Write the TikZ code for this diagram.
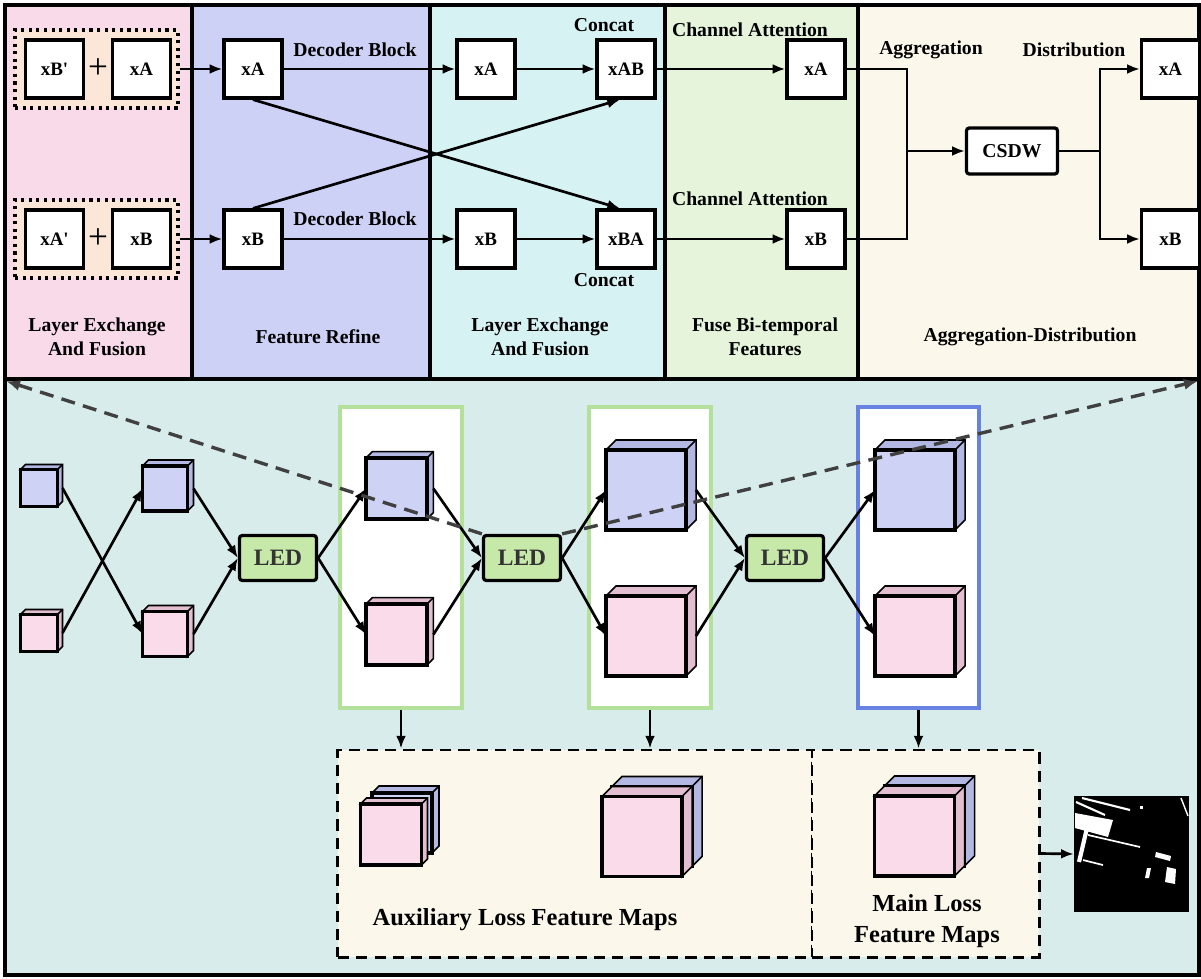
\documentclass[tikz,border=0pt]{standalone}
\usepackage{fontspec}
\setmainfont{Liberation Serif}
\usetikzlibrary{arrows.meta,calc}

\definecolor{panel_pink}{HTML}{F9DAE9}
\definecolor{panel_lavender}{HTML}{CED1F6}
\definecolor{panel_cyan}{HTML}{D7F2F3}
\definecolor{panel_green}{HTML}{E5F4DB}
\definecolor{panel_cream}{HTML}{FBF7EA}
\definecolor{panel_teal}{HTML}{D9ECEC}
\definecolor{group_peach}{HTML}{FBE6D8}
\definecolor{led_green}{HTML}{C6E9A9}
\definecolor{frame_green}{HTML}{B3E09B}
\definecolor{frame_blue}{HTML}{6882E4}
\definecolor{cube_blue}{HTML}{CED3F6}
\definecolor{cube_blue_side}{HTML}{B2B8E2}
\definecolor{cube_pink}{HTML}{F9DBEA}
\definecolor{cube_pink_side}{HTML}{E3BED1}

\tikzstyle{node_box} = [draw, line width=2.3pt, fill=white, minimum width=1.45cm, minimum height=1.45cm, inner sep=0pt, font=\fontsize{13.5}{15}\selectfont\bfseries]
\tikzstyle{node_group} = [draw, line width=2.4pt, dash pattern=on 2.2pt off 3.2pt, fill=group_peach, minimum width=4.075cm, minimum height=1.95cm]
\tikzstyle{node_plus} = [inner sep=0pt, font=\fontsize{25}{25}\selectfont]
\tikzstyle{node_label} = [inner sep=0pt, align=center, font=\fontsize{14}{17}\selectfont\bfseries]
\tikzstyle{node_title} = [inner sep=0pt, align=center, font=\fontsize{17.4}{22}\selectfont\bfseries]
\tikzstyle{node_csdw} = [draw, line width=2.3pt, rounded corners=2pt, fill=white, minimum width=2.275cm, minimum height=1.15cm, font=\fontsize{14}{16}\selectfont\bfseries]
\tikzstyle{node_led} = [draw, line width=2.3pt, rounded corners=2pt, fill=led_green, minimum width=1.925cm, minimum height=1.125cm, font=\fontsize{16.7}{18}\selectfont\bfseries, text=black!80]
\tikzstyle{node_frame} = [draw, line width=2.7pt, fill=white, minimum width=3.05cm, minimum height=7.525cm, inner sep=0pt]
\tikzstyle{node_face} = [inner sep=0pt, outer sep=0pt]
\tikzstyle{node_loss} = [draw, line width=2.1pt, dash pattern=on 8pt off 5pt, fill=panel_cream, minimum height=5.175cm, inner sep=0pt]
\tikzstyle{edge_flow} = [-{Latex[length=9pt,width=7pt]}, line width=1.9pt]
\tikzstyle{edge_plain} = [line width=1.9pt]
\tikzstyle{edge_zoom} = [-{Latex[length=10pt,width=8pt]}, line width=2.4pt, draw=black!75, dash pattern=on 10pt off 6pt]

% feature map cube: name, centre, size, depth, front colour, side colour
\newcommand{\fmap}[6]{%
  \node[node_face, fill=#5, minimum size=#3] (#1) at #2 {};
  \draw[line width=1.1pt, fill=#6] (#1.north west) -- ++(#4,#4) -- ++(#3,0) -- ++(0,-#3) -- (#1.south east) -- (#1.north east) -- cycle;
  \draw[line width=1.1pt] (#1.north east) -- ++(#4,#4);
  \draw[line width=2.3pt] (#1.south west) rectangle (#1.north east);
}

\begin{document}
\begin{tikzpicture}[x=0.025cm, y=-0.025cm]
\useasboundingbox (0,0) rectangle (1201,978);

% panels
\fill[panel_pink] (5,5) rectangle (192,379);
\fill[panel_lavender] (192,5) rectangle (430,379);
\fill[panel_cyan] (430,5) rectangle (665,379);
\fill[panel_green] (665,5) rectangle (858,379);
\fill[panel_cream] (858,5) rectangle (1199,379);
\fill[panel_teal] (5,379) rectangle (1199,975);
\draw[line width=2.3pt] (192,5) -- (192,379) (430,5) -- (430,379) (665,5) -- (665,379) (858,5) -- (858,379);
\draw[line width=2.4pt] (5,5) rectangle (1199,379);
\draw[line width=2.4pt] (5,379) rectangle (1199,975);

% top: exchange and fusion
\node[node_group] (grpA) at (96.5,69) {};
\node[node_group] (grpB) at (96.5,239) {};
\node[node_box] (inBp) at (54.5,69) {xB\textquotesingle};
\node[node_plus] (plusA) at (98,69) {+};
\node[node_box] (inA) at (141.5,69) {xA};
\node[node_box] (inAp) at (54.5,239) {xA\textquotesingle};
\node[node_plus] (plusB) at (98,239) {+};
\node[node_box] (inB) at (141.5,239) {xB};

\node[node_box] (frA) at (253,69) {xA};
\node[node_box] (frB) at (253,239) {xB};
\node[node_box] (leA) at (486,69) {xA};
\node[node_box] (leB) at (486,239) {xB};
\node[node_box] (cAB) at (626,69) {xAB};
\node[node_box] (cBA) at (626,239) {xBA};
\node[node_box] (caA) at (816,69) {xA};
\node[node_box] (caB) at (816,239) {xB};
\node[node_csdw] (csdw) at (1012,151) {CSDW};
\node[node_box] (outA) at (1170.5,69) {xA};
\node[node_box] (outB) at (1170.5,239) {xB};

\node[node_label] (decA) at (355,50) {Decoder Block};
\node[node_label] (decB) at (355,219) {Decoder Block};
\node[node_label] (catA) at (604,25) {Concat};
\node[node_label] (catB) at (604,280) {Concat};
\node[node_label] (attA) at (750,30) {Channel Attention};
\node[node_label] (attB) at (750,199) {Channel Attention};
\node[node_label] (agg) at (931,50) {Aggregation};
\node[node_label] (dist) at (1074,50) {Distribution};

\node[node_label] (ttl1) at (97,337) {Layer Exchange\\And Fusion};
\node[node_label] (ttl2) at (318,337) {Feature Refine};
\node[node_label] (ttl3) at (540,337) {Layer Exchange\\And Fusion};
\node[node_label] (ttl4) at (765,337) {Fuse Bi-temporal\\Features};
\node[node_label] (ttl5) at (1030,337) {Aggregation-Distribution};

\draw[edge_flow] (grpA.east) -- (frA.west);
\draw[edge_flow] (grpB.east) -- (frB.west);
\draw[edge_flow] (frA.east) -- (leA.west);
\draw[edge_flow] (frB.east) -- (leB.west);
\draw[edge_flow] (frA.south) -- ([xshift=-0.15cm]cBA.north);
\draw[edge_flow] (frB.north) -- ([xshift=-0.15cm]cAB.south);
\draw[edge_flow] (leA) -- (cAB);
\draw[edge_flow] (leB) -- (cBA);
\draw[edge_flow] (cAB) -- (caA);
\draw[edge_flow] (cBA) -- (caB);
\coordinate (aggJ) at (907,151);
\coordinate (distJ) at (1100,151);
\draw[edge_plain] (caA.east) -| (aggJ) |- (caB.east);
\draw[edge_flow] (aggJ) -- (csdw);
\draw[edge_plain] (csdw) -- (distJ);
\draw[edge_flow] (distJ) |- (outA.west);
\draw[edge_flow] (distJ) |- (outB.west);

% bottom: decoder stages
\node[node_frame, draw=frame_green] (frm2) at (401,557.5) {};
\node[node_frame, draw=frame_green] (frm3) at (650,557.5) {};
\node[node_frame, draw=frame_blue, minimum width=3.025cm] (frm4) at (918.5,557.5) {};

\fmap{b0}{(39,488)}{0.925cm}{0.125cm}{cube_blue}{cube_blue_side}
\fmap{p0}{(39,633)}{0.925cm}{0.125cm}{cube_pink}{cube_pink_side}
\fmap{b1}{(165,488.5)}{1.125cm}{0.15cm}{cube_blue}{cube_blue_side}
\fmap{p1}{(165,634)}{1.125cm}{0.15cm}{cube_pink}{cube_pink_side}
\fmap{b2}{(396.5,488.5)}{1.525cm}{0.16cm}{cube_blue}{cube_blue_side}
\fmap{p2}{(396.5,634.5)}{1.525cm}{0.16cm}{cube_pink}{cube_pink_side}
\fmap{b3}{(646,490)}{2cm}{0.25cm}{cube_blue}{cube_blue_side}
\fmap{p3}{(646,636)}{2cm}{0.25cm}{cube_pink}{cube_pink_side}
\fmap{b4}{(915,490)}{2cm}{0.25cm}{cube_blue}{cube_blue_side}
\fmap{p4}{(915,636)}{2cm}{0.25cm}{cube_pink}{cube_pink_side}

\node[node_led] (led1) at (278,558) {LED};
\node[node_led] (led2) at (522,558) {LED};
\node[node_led] (led3) at (785,558) {LED};

\draw[edge_flow] ([xshift=0.125cm]b0.east) -- (p1.west);
\draw[edge_flow] ([xshift=0.125cm]p0.east) -- (b1.west);
\draw[edge_flow] ([xshift=0.15cm]b1.east) -- (led1.west);
\draw[edge_flow] ([xshift=0.15cm]p1.east) -- (led1.west);
\draw[edge_flow] (led1.east) -- (b2.west);
\draw[edge_flow] (led1.east) -- (p2.west);
\draw[edge_flow] ([xshift=0.16cm]b2.east) -- (led2.west);
\draw[edge_flow] ([xshift=0.16cm]p2.east) -- (led2.west);
\draw[edge_flow] (led2.east) -- (b3.west);
\draw[edge_flow] (led2.east) -- (p3.west);
\draw[edge_flow] ([xshift=0.25cm]b3.east) -- (led3.west);
\draw[edge_flow] ([xshift=0.25cm]p3.east) -- (led3.west);
\draw[edge_flow] (led3.east) -- (b4.west);
\draw[edge_flow] (led3.east) -- (p4.west);

% loss feature maps
\node[node_loss, minimum width=11.85cm] (auxBox) at (575,853.5) {};
\node[node_loss, minimum width=5.675cm] (mainBox) at (925.5,853.5) {};
\draw[edge_flow] (frm2.south) -- (frm2.south |- auxBox.north);
\draw[edge_flow] (frm3.south) -- (frm3.south |- auxBox.north);
\draw[edge_flow] (frm4.south) -- (frm4.south |- mainBox.north);

\fmap{auxB1}{(402,823)}{1.5cm}{0.175cm}{cube_blue}{cube_blue_side}
\fmap{auxP1}{(391,834.5)}{1.525cm}{0.15cm}{cube_pink}{cube_pink_side}
\fmap{auxB2}{(652,826.5)}{2cm}{0.25cm}{cube_blue}{cube_blue_side}
\fmap{auxP2}{(642,836.5)}{2cm}{0.25cm}{cube_pink}{cube_pink_side}
\fmap{mainB}{(924.5,826)}{2cm}{0.25cm}{cube_blue}{cube_blue_side}
\fmap{mainP}{(914.5,836)}{2cm}{0.25cm}{cube_pink}{cube_pink_side}

\node[node_title] (auxT) at (525,920) {Auxiliary Loss Feature Maps};
\node[node_title] (mainT) at (927,921.5) {Main Loss\\Feature Maps};

% change map
\node[fill=black, minimum size=2.875cm, inner sep=0pt] (map) at (1131.5,854) {};
\draw[edge_flow] (mainBox.east) -- (map.west);
\fill[white] (1075,813) -- (1113,820) -- (1108,837) -- (1075,828) -- cycle;
\draw[white, line width=1.5pt] (1076,802) -- (1105,815);
\draw[white, line width=1.5pt] (1082,798) -- (1130,810);
\draw[white, line width=3pt] (1087,828) -- (1079,862);
\draw[white, line width=1.2pt] (1088,835) -- (1140,847);
\draw[white, line width=1.2pt] (1083,860) -- (1103,865);
\fill[white] (1156,852) -- (1171,856) -- (1170,861) -- (1155,857) -- cycle;
\fill[white] (1147,868) -- (1151,868) -- (1149,878) -- (1145,878) -- cycle;
\fill[white] (1167,867) -- (1176,869) -- (1175,884) -- (1165,882) -- cycle;
\draw[white, line width=1pt] (1181,798) -- (1188,816);
\fill[white] (1140,806) rectangle (1143,809);

% zoom lines
\coordinate (cornTL) at (6,381);
\coordinate (cornTR) at (1198,381);
\draw[edge_zoom] (led2.north west) -- (cornTL);
\draw[edge_zoom] (led2.north east) -- (cornTR);
\end{tikzpicture}
\end{document}
